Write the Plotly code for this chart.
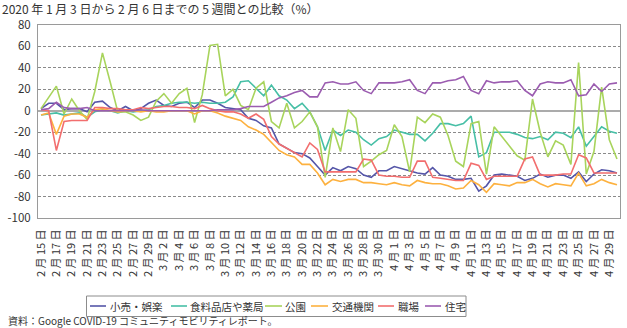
import pandas as pd
import plotly.graph_objects as go

# ---------------- data ----------------
dates = pd.date_range("2020-02-15", "2020-04-30", freq="D")

retail = [2, 7, 7, 1, 2, 2, -1, 8, 9, 3, 0, 4, 0, 2, 7, 10, 5, 4, 7,
          8, 3, 10, 10, 7, 3, 2, 1, -7, -9, -14, -16, -31, -35, -39, -40, -44, -52, -60,
          -53, -56, -52, -54, -60, -62, -56, -56, -52, -54, -56, -58, -59, -53, -60, -61, -64, -64, -63,
          -75, -70, -60, -59, -60, -61, -65, -63, -59, -62, -60, -60, -63, -57, -66, -59, -55, -56, -58]

grocery = [-4, -3, -2, -4, -3, -2, -6, -1, 1, 0, -2, 0, -1, 0, 1, 4, 5, 7, 8,
           8, 7, 8, 7, 7, 8, 13, 27, 28, 21, 14, 24, 14, 10, 2, 7, -1, -15, -37,
           -18, -23, -18, -20, -27, -32, -26, -24, -18, -20, -22, -22, -28, -21, -12, -12, -14, -12, -5,
           -43, -39, -20, -20, -20, -22, -25, -26, -24, -27, -20, -21, -25, -15, -33, -24, -15, -19, -21]

parks = [2, 12, 23, -3, 11, 0, -8, 18, 54, 27, -1, -1, -4, -9, -6, 9, 16, 7, 16,
         21, -11, 15, 61, 62, 14, 20, 5, 1, 21, 27, -10, -16, 7, -16, -10, -1, -15, -62,
         -16, -38, 1, -7, -52, -47, -41, -37, -13, -24, -57, -6, -11, -3, -6, -23, -47, -52, -12,
         -10, -59, -15, -24, -33, -42, -46, 11, -20, -43, -28, -32, -50, 45, -59, -38, 22, -27, -45]

transit = [-4, -2, -22, -5, -3, -3, -6, 1, 2, 0, -1, 0, 0, -1, 0, -1, -1, 0, 0,
           0, -3, 0, 0, -2, -5, -7, -9, -15, -18, -22, -30, -37, -41, -43, -50, -50, -58, -69,
           -64, -66, -64, -64, -67, -67, -68, -69, -67, -69, -70, -65, -67, -68, -68, -70, -73, -72, -65,
           -69, -76, -68, -69, -70, -67, -67, -64, -68, -71, -68, -69, -70, -58, -70, -68, -64, -67, -69]

workplaces = [1, 0, -37, -10, -9, -9, -9, 3, 3, 2, 2, 1, 1, 3, 2, 3, 4, 4, 3,
              3, 2, 5, 2, 0, -1, -1, -3, -7, -3, -8, -24, -31, -35, -39, -43, -30, -36, -57,
              -57, -57, -57, -57, -45, -46, -60, -61, -61, -62, -62, -47, -47, -62, -63, -64, -65, -65, -49,
              -51, -64, -61, -61, -61, -61, -45, -43, -60, -60, -60, -59, -59, -41, -44, -58, -58, -58, -58]

residential = [1, 2, 8, 3, 2, 2, 3, 0, 0, 0, 0, 0, 0, 1, 0, 0, 0, 0, 0,
               0, 0, 0, 0, 1, 1, 1, 2, 4, 4, 4, 8, 12, 14, 17, 19, 13, 13, 26,
               27, 25, 25, 27, 19, 16, 26, 26, 26, 27, 29, 19, 16, 26, 26, 28, 29, 32, 19,
               16, 28, 26, 27, 27, 28, 19, 14, 25, 27, 26, 26, 29, 14, 15, 25, 18, 25, 26]

series_names = ["小売・娯楽", "食料品店や薬局", "公園", "交通機関", "職場", "住宅"]
series_values = [retail, grocery, parks, transit, workplaces, residential]
series_colors = ["#5556A8", "#47BFA6", "#A8D45C", "#FDB13F", "#F26E6E", "#9B5CB0"]

y_tickvals = [80, 60, 40, 20, 0, -20, -40, -60, -80, -100]
y_ticktext = ["80", "60", "40", "20", "0", "-20", "-40", "-60", "-80", "-100"]

title_text = "2020 年 1 月 3 日から 2 月 6 日までの 5 週間との比較（%）"
source_text = "資料：Google COVID-19 コミュニティモビリティレポート。"

# ---------------- layout helpers ----------------
W, H = 627, 328
ML, MR, MT, MB = 38, 7, 25, 110
PW, PH = W - ML - MR, H - MT - MB
FONT = "Noto Sans CJK JP"
TXT = "#333333"


def px(x):
    return (x - ML) / PW


def py(y):
    return (H - MB - y) / PH


fig = go.Figure()
for name, vals, col in zip(series_names, series_values, series_colors):
    fig.add_trace(go.Scatter(x=dates, y=vals, name=name, mode="lines",
                             line=dict(color=col, width=1.6), showlegend=False))

shapes = []
annotations = []

# legend box (drawn manually to match compact reference legend)
shapes.append(dict(type="rect", xref="paper", yref="paper",
                   x0=px(86.5), x1=px(466), y0=py(296), y1=py(316.5),
                   line=dict(color="#8c8c8c", width=1), fillcolor="rgba(0,0,0,0)"))
leg_line_x = [(90, 106), (171, 187), (265, 282), (311, 328), (378, 394), (425, 441)]
leg_text_x = [108, 188, 283, 330, 396, 443]
leg_y = 306
for (x0, x1), tx, name, col in zip(leg_line_x, leg_text_x, series_names, series_colors):
    shapes.append(dict(type="line", xref="paper", yref="paper",
                       x0=px(x0), x1=px(x1), y0=py(leg_y), y1=py(leg_y),
                       line=dict(color=col, width=1.6)))
    annotations.append(dict(text=name, xref="paper", yref="paper", x=px(tx), y=py(leg_y),
                            xanchor="left", yanchor="middle", showarrow=False,
                            font=dict(family=FONT, size=10.5, color=TXT)))

annotations.append(dict(text=title_text, xref="paper", yref="paper", x=px(1), y=py(8.5),
                        xanchor="left", yanchor="middle", showarrow=False, borderpad=0,
                        font=dict(family=FONT, size=12, color=TXT)))
annotations.append(dict(text=source_text, xref="paper", yref="paper", x=px(6), y=py(320),
                        xanchor="left", yanchor="middle", showarrow=False,
                        font=dict(family=FONT, size=10, color=TXT)))

fig.update_layout(
    width=W, height=H,
    margin=dict(l=ML, r=MR, t=MT, b=MB, pad=0),
    paper_bgcolor="white", plot_bgcolor="white",
    font=dict(family=FONT, color=TXT),
    shapes=shapes, annotations=annotations,
    showlegend=False,
)

fig.update_xaxes(
    type="date",
    range=["2020-02-14 14:36", "2020-04-30 09:24"],
    tick0="2020-02-15", dtick=2 * 86400000,
    tickformat="%-m 月 %-d 日", tickangle=-90,
    tickfont=dict(family=FONT, size=11, color=TXT),
    showgrid=False, zeroline=False,
    showline=True, linecolor="#9a9a9a", linewidth=1, mirror=True,
    ticks="", ticklabelstandoff=6,
)
fig.update_yaxes(
    range=[-100, 80],
    tickvals=y_tickvals, ticktext=y_ticktext,
    tickfont=dict(family=FONT, size=11.5, color=TXT),
    showgrid=True, gridcolor="#8a8a8a", gridwidth=1, griddash="3px,2px",
    zeroline=True, zerolinecolor="#ababab", zerolinewidth=2,
    showline=True, linecolor="#9a9a9a", linewidth=1, mirror=True,
    ticks="", ticklabelstandoff=4,
)

fig.write_html("out.html")
